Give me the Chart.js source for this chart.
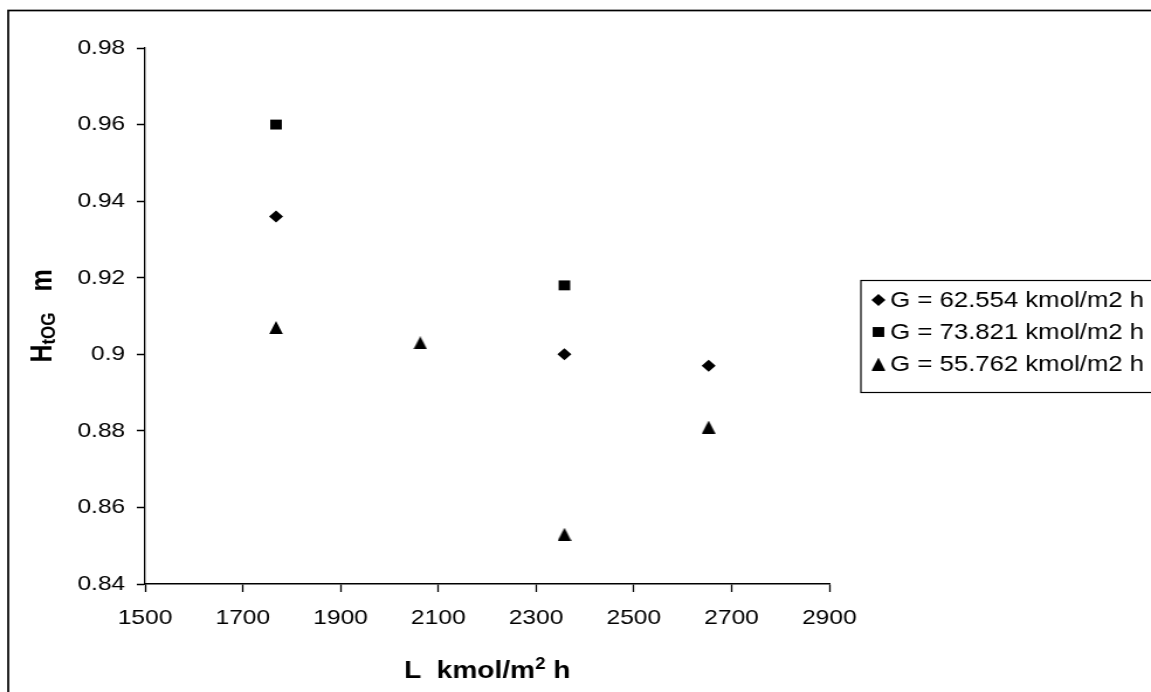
<!DOCTYPE html>
<html>
<head>
<meta charset="utf-8">
<title>HtOG vs L</title>
<script src="https://cdn.jsdelivr.net/npm/chart.js@4/dist/chart.umd.min.js"></script>
<style>
  html, body { margin:0; padding:0; background:#fff; overflow:hidden; }
  /* the chart is laid out narrow and widened a little, like the exported sheet */
  #wrap { position:absolute; left:0; top:0; width:984px; height:692px; transform:scaleX(1.1697); transform-origin:0 0; }
</style>
</head>
<body>
<div id="wrap"><canvas id="chart"></canvas></div>
<script>
const FONT = "'Liberation Sans', Arial, sans-serif";

// liquid load L (kmol/m2 h) shared by all runs
const lValues = [1768, 2063, 2358, 2653];
const seriesNames = ["G = 62.554 kmol/m2 h", "G = 73.821 kmol/m2 h", "G = 55.762 kmol/m2 h"];
// HtOG (m) per gas load, null where no run was made
const htogG62 = [0.936, null, 0.900, 0.897];
const htogG73 = [0.960, null, 0.918, null];
const htogG55 = [0.907, 0.903, 0.853, 0.881];
const xTicks = [1500, 1700, 1900, 2100, 2300, 2500, 2700, 2900];
const yTicks = [0.84, 0.86, 0.88, 0.90, 0.92, 0.94, 0.96, 0.98];

function points(vals){
  return lValues.map((x, i) => ({ x, y: vals[i] })).filter(p => p.y !== null);
}

// upright triangle centred on its bounding box
function triangleSprite(){
  const c = document.createElement("canvas");
  c.width = 12; c.height = 13;
  const g = c.getContext("2d");
  g.fillStyle = "#000";
  g.beginPath();
  g.moveTo(6, 0); g.lineTo(11.8, 13); g.lineTo(0.2, 13);
  g.closePath(); g.fill();
  return c;
}
const tri = triangleSprite();

const frame = {
  id: "frame",
  beforeDraw(chart){
    const ctx = chart.ctx;
    ctx.save();
    ctx.fillStyle = "#fff";
    ctx.fillRect(0, 0, chart.width, chart.height);
    ctx.strokeStyle = "#000";
    ctx.lineWidth = 1.7;
    ctx.strokeRect(7, 10.5, chart.width + 20, chart.height + 20);
    ctx.restore();
  }
};

const extras = {
  id: "extras",
  afterDraw(chart){
    const ctx = chart.ctx, area = chart.chartArea;
    ctx.save();
    ctx.fillStyle = "#000";

    // legend box
    ctx.strokeStyle = "#000";
    ctx.lineWidth = 1.2;
    ctx.strokeRect(736, 280.5, 300, 112);
    const rows = [300, 332, 364];
    chart.data.datasets.forEach((ds, i) => {
      const st = { pointStyle: ds.pointStyle, radius: ds.pointRadius, rotation: 0, borderWidth: 0 };
      ctx.fillStyle = "#000";
      if (Chart.helpers && Chart.helpers.drawPoint){
        Chart.helpers.drawPoint(ctx, st, 751, rows[i]);
      }
      ctx.fillStyle = "#000";
      ctx.font = "22px " + FONT;
      ctx.textAlign = "left";
      ctx.textBaseline = "middle";
      ctx.fillText(ds.label, 761, rows[i] + 1);
    });

    // x axis title with superscript
    ctx.textBaseline = "alphabetic";
    ctx.textAlign = "left";
    const big = "bold 24px " + FONT, small = "bold 16px " + FONT;
    ctx.font = big;  const wa = ctx.measureText("L  kmol/m").width, wc = ctx.measureText(" h").width;
    ctx.font = small; const wb = ctx.measureText("2").width;
    let x = (area.left + area.right) / 2 - (wa + wb + wc) / 2;
    const yb = 678;
    ctx.font = big;   ctx.fillText("L  kmol/m", x, yb); x += wa;
    ctx.font = small; ctx.fillText("2", x, yb - 9);     x += wb;
    ctx.font = big;   ctx.fillText(" h", x, yb);

    // y axis title with subscript, rotated
    ctx.translate(44, (area.top + area.bottom) / 2);
    ctx.rotate(-Math.PI / 2);
    const yb1 = "bold 25px " + FONT, ys = "bold 17px " + FONT;
    ctx.font = yb1; const h1 = ctx.measureText("H").width, h3 = ctx.measureText("   m").width;
    ctx.font = ys;  const h2 = ctx.measureText("tOG").width;
    let t = -(h1 + h2 + h3) / 2;
    ctx.font = yb1; ctx.fillText("H", t, 0); t += h1;
    ctx.font = ys;  ctx.fillText("tOG", t, 3); t += h2;
    ctx.font = yb1; ctx.fillText("   m", t, 0);
    ctx.restore();
  }
};

new Chart(document.getElementById("chart"), {
  type: "scatter",
  data: {
    datasets: [
      { label: seriesNames[0], data: points(htogG62), pointStyle: "rectRot", pointRadius: 6,
        backgroundColor: "#000", borderColor: "#000", borderWidth: 0 },
      { label: seriesNames[1], data: points(htogG73), pointStyle: "rect", pointRadius: 7,
        backgroundColor: "#000", borderColor: "#000", borderWidth: 0 },
      { label: seriesNames[2], data: points(htogG55), pointStyle: tri, pointRadius: 7,
        backgroundColor: "#000", borderColor: "#000", borderWidth: 0 }
    ]
  },
  options: {
    responsive: true,
    maintainAspectRatio: false,
    animation: false,
    layout: { padding: { left: 0, right: 275, top: 48, bottom: 0 } },
    plugins: { legend: { display: false }, tooltip: { enabled: false } },
    scales: {
      x: {
        type: "linear", min: 1500, max: 2900,
        afterBuildTicks: s => { s.ticks = xTicks.map(v => ({ value: v })); },
        afterFit: s => { s.height = 108; },
        ticks: { color: "#000", font: { family: FONT, size: 21 }, padding: 14, maxRotation: 0, autoSkip: false,
                 callback: v => String(v) },
        grid: { drawOnChartArea: false, drawTicks: true, tickLength: 8, tickColor: "#000", tickWidth: 1.3 },
        border: { color: "#000", width: 1.5 }
      },
      y: {
        type: "linear", min: 0.84, max: 0.98,
        afterBuildTicks: s => { s.ticks = yTicks.map(v => ({ value: v })); },
        afterFit: s => { s.width = 124; },
        ticks: { color: "#000", font: { family: FONT, size: 21 }, padding: 10, autoSkip: false,
                 callback: v => String(+Number(v).toFixed(2)) },
        grid: { drawOnChartArea: false, drawTicks: true, tickLength: 7, tickColor: "#000", tickWidth: 1.5 },
        border: { color: "#000", width: 1.3 }
      }
    }
  },
  plugins: [frame, extras]
});
</script>
</body>
</html>
